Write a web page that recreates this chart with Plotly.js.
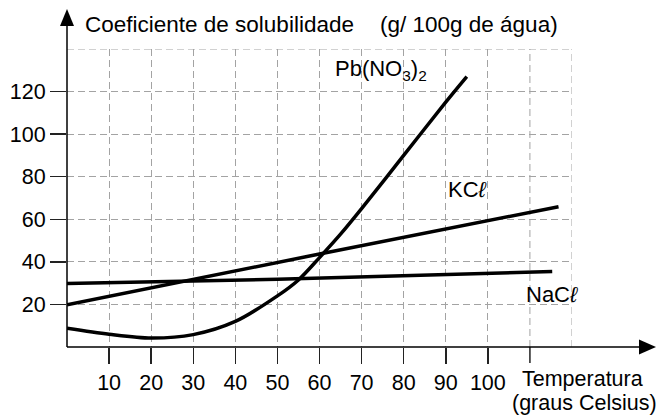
<!DOCTYPE html>
<html>
<head>
<meta charset="utf-8">
<script src="https://cdn.plot.ly/plotly-3.0.1.min.js"></script>
<style>html,body{margin:0;padding:0;background:#fff;}#chart{width:660px;height:415px;}</style>
</head>
<body>
<div id="chart"></div>
<script>
// ---- data ----
const pbTemp   = [0, 10, 20, 30, 40, 50, 55, 60, 65, 70, 80, 90, 95];
const pbSol    = [8.8, 6, 4.2, 5.8, 12, 24, 31.5, 42, 53, 65, 90, 115, 127];
const kclTemp  = [0, 60, 116.8];
const kclSol   = [19.8, 43.7, 65.9];
const naclTemp = [0, 50, 115.3];
const naclSol  = [29.8, 31.8, 35.5];
const xTickVals = [10, 20, 30, 40, 50, 60, 70, 80, 90, 100];
const xTickText = ['10', '20', '30', '40', '50', '60', '70', '80', '90', '100'];
const yTickVals = [20, 40, 60, 80, 100, 120];
const yTickText = ['20', '40', '60', '80', '100', '120'];

// ---- geometry ----
const W = 660, H = 415;
const M = {l: 67, r: 88, t: 49, b: 68};
const PW = W - M.l - M.r, PH = H - M.t - M.b;
const px = x => (x - M.l) / PW;          // pixel -> paper x
const py = y => (H - M.b - y) / PH;      // pixel -> paper y

const FONT = 'Liberation Sans, Arial, Helvetica, sans-serif';
const GRID_COLOR = '#a3a3a3', GRID_W = 1, GRID_DASH = '7px,4px';
const gridStyle = {gridcolor: GRID_COLOR, gridwidth: GRID_W, griddash: GRID_DASH};

function curve(x, y, shape) {
  return {x: x, y: y, type: 'scatter', mode: 'lines', hoverinfo: 'skip', showlegend: false,
          line: {color: '#000', width: 3.5, shape: shape, smoothing: 0.9}};
}

const traces = [
  curve(naclTemp, naclSol, 'spline'),
  curve(kclTemp, kclSol, 'linear'),
  curve(pbTemp, pbSol, 'spline')
];

const layout = {
  width: W, height: H,
  margin: M,
  paper_bgcolor: '#fff', plot_bgcolor: '#fff',
  font: {family: FONT, size: 21.5, color: '#000'},
  showlegend: false,
  xaxis: Object.assign({
    range: [0, 120], tickmode: 'array', tickvals: xTickVals, ticktext: xTickText,
    ticks: 'outside', ticklen: 16, tickwidth: 1.5, tickcolor: '#222',
    showgrid: true, zeroline: false, showline: false, fixedrange: true,
    tickfont: {family: FONT, size: 21.5, color: '#000'}
  }, gridStyle),
  yaxis: Object.assign({
    range: [0, 140], tickmode: 'array', tickvals: yTickVals, ticktext: yTickText,
    ticks: 'outside', ticklen: 16, tickwidth: 1.5, tickcolor: '#222',
    showgrid: true, zeroline: false, showline: false, fixedrange: true,
    tickfont: {family: FONT, size: 21.5, color: '#000'}
  }, gridStyle),
  shapes: [
    // grid lines on the far edges (x = 110, 120 and y = 140)
    {type: 'line', xref: 'x', yref: 'paper', x0: 110, x1: 110, y0: 0, y1: 1, layer: 'below',
     line: {color: GRID_COLOR, width: GRID_W, dash: GRID_DASH}},
    {type: 'line', xref: 'x', yref: 'paper', x0: 120, x1: 120, y0: 0, y1: 1, layer: 'below',
     line: {color: GRID_COLOR, width: GRID_W, dash: GRID_DASH}},
    {type: 'line', xref: 'paper', yref: 'y', x0: 0, x1: 1, y0: 140, y1: 140, layer: 'below',
     line: {color: GRID_COLOR, width: GRID_W, dash: GRID_DASH}},
    // unlabeled tick at 110
    {type: 'line', xref: 'x', yref: 'paper', x0: 110, x1: 110, y0: 0, y1: -16 / PH,
     line: {color: '#222', width: 1.5}},
    // axis lines
    {type: 'line', xref: 'paper', yref: 'paper', x0: 0, y0: 0, x1: 0, y1: py(20), line: {color: '#000', width: 1.5}},
    {type: 'line', xref: 'paper', yref: 'paper', x0: 0, y0: 0, x1: px(642), y1: 0, line: {color: '#000', width: 1.5}},
    // arrow heads
    {type: 'path', xref: 'paper', yref: 'paper',
     path: `M ${px(67)} ${py(9)} L ${px(60)} ${py(26)} L ${px(74)} ${py(26)} Z`,
     fillcolor: '#000', line: {color: '#000', width: 0}},
    {type: 'path', xref: 'paper', yref: 'paper',
     path: `M ${px(656)} ${py(347)} L ${px(639)} ${py(339.5)} L ${px(639)} ${py(354.5)} Z`,
     fillcolor: '#000', line: {color: '#000', width: 0}}
  ],
  annotations: [
    {xref: 'paper', yref: 'paper', x: px(83), y: py(24), xanchor: 'left', yanchor: 'middle',
     text: 'Coeficiente de solubilidade', showarrow: false, font: {family: FONT, size: 22.5}},
    {xref: 'paper', yref: 'paper', x: px(378), y: py(24), xanchor: 'left', yanchor: 'middle',
     text: '(g/ 100g de água)', showarrow: false, font: {family: FONT, size: 22.5}},
    {xref: 'paper', yref: 'paper', x: px(582), y: py(379), xanchor: 'center', yanchor: 'middle',
     text: 'Temperatura', showarrow: false, font: {family: FONT, size: 21.5}},
    {xref: 'paper', yref: 'paper', x: px(584), y: py(403), xanchor: 'center', yanchor: 'middle',
     text: '(graus Celsius)', showarrow: false, font: {family: FONT, size: 21.5}},
    {xref: 'x', yref: 'y', x: 63.2, y: 130, xanchor: 'left', yanchor: 'middle',
     text: 'Pb(NO<sub>3</sub>)<sub>2</sub>', showarrow: false, font: {family: FONT, size: 22}},
    {xref: 'x', yref: 'y', x: 90.1, y: 74.2, xanchor: 'left', yanchor: 'middle',
     text: 'KC<i>ℓ</i>', showarrow: false, font: {family: FONT, size: 22}},
    {xref: 'x', yref: 'y', x: 108.7, y: 24.9, xanchor: 'left', yanchor: 'middle',
     text: 'NaC<i>ℓ</i>', showarrow: false, font: {family: FONT, size: 22}}
  ]
};

Plotly.newPlot('chart', traces, layout, {staticPlot: true, displayModeBar: false});
</script>
</body>
</html>
